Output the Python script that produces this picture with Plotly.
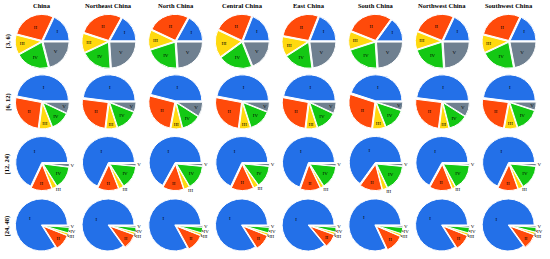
import plotly.graph_objects as go

regions = ["China", "Northeast China", "North China", "Central China",
           "East China", "South China", "Northwest China", "Southwest China"]
periods = ["[3, 6)", "[6, 12)", "[12, 24)", "[24, 48)"]
classes = ["I", "II", "III", "IV", "V"]

# shares (%) of classes I..V per region, one list per period
share_3_6 = [
    [18, 28, 12, 21, 21],
    [17, 28, 12, 19, 24],
    [17, 26, 12, 21, 24],
    [19, 24, 17, 21, 19],
    [19, 28, 12, 18, 23],
    [15, 29, 11, 21, 24],
    [18, 26, 11, 21, 24],
    [18, 28, 11, 21, 22],
]
share_6_12 = [
    [47, 26, 8, 12, 7],
    [48, 25, 7, 14, 6],
    [46, 26, 7, 12, 9],
    [47, 26, 7, 14, 6],
    [47, 26, 7, 13, 7],
    [45, 28, 8, 14, 5],
    [48, 25, 6, 12, 9],
    [48, 24, 8, 15, 5],
]
share_12_24 = [
    [68, 13, 3, 14, 2],
    [68, 13, 3, 14.5, 1.5],
    [67, 13, 3.5, 15, 1.5],
    [68, 14, 3, 13.5, 1.5],
    [69.5, 12.5, 2, 14.5, 1.5],
    [65, 14, 3, 16.5, 1.5],
    [67, 14, 2, 16, 1],
    [68, 12.5, 3, 15, 1.5],
]
share_24_48 = [
    [84, 10, 1.5, 3.5, 1],
    [85, 9.5, 1.5, 3, 1],
    [83, 11, 1.5, 3.5, 1],
    [84, 10, 1.5, 3.5, 1],
    [86, 8.5, 1.5, 3, 1],
    [82, 11.5, 1.5, 4, 1],
    [84, 10, 1.5, 3.5, 1],
    [85, 9.5, 1.5, 3, 1],
]
all_shares = [share_3_6, share_6_12, share_12_24, share_24_48]

colors = ["#2370E8", "#FF4A0A", "#FFD90F", "#14C814", "#6F8090"]

W, H = 550, 259
col_x0, col_dx = 43, 67.8
row_y = [42, 103.5, 166, 229]
half = 27.5

fig = go.Figure()
for r, shares in enumerate(all_shares):
    cy = row_y[r]
    for c, vals in enumerate(shares):
        cx = col_x0 + col_dx * c
        # plotly (ccw): first slice occupies [rotation, rotation+v1] clockwise from 12 o'clock;
        # make slice I start at 3 o'clock and run counterclockwise (matplotlib style)
        rot = 90 - 360.0 * vals[0] / sum(vals)
        fig.add_trace(go.Pie(
            labels=classes, values=vals, sort=False,
            direction="counterclockwise", rotation=rot,
            marker=dict(colors=colors, line=dict(color="white", width=1)),
            pull=[0.04] * 5,
            textinfo="label", textposition="auto",
            insidetextorientation="horizontal",
            textfont=dict(family="Liberation Serif", size=5, color="black"),
            showlegend=False, hoverinfo="label+percent",
            domain=dict(x=[(cx - half) / W, (cx + half) / W],
                        y=[1 - (cy + half) / H, 1 - (cy - half) / H]),
        ))

annotations = []
for c, name in enumerate(regions):
    annotations.append(dict(
        text="<b>%s</b>" % name, x=(col_x0 + col_dx * c) / W, y=1 - 6 / H,
        xref="paper", yref="paper", showarrow=False,
        font=dict(family="Liberation Serif", size=6.5, color="black"),
        xanchor="center", yanchor="middle"))
for r, p in enumerate(periods):
    annotations.append(dict(
        text="<b>%s</b>" % p, x=8 / W, y=1 - row_y[r] / H,
        xref="paper", yref="paper", showarrow=False, textangle=-90,
        font=dict(family="Liberation Serif", size=6.5, color="black"),
        xanchor="center", yanchor="middle"))

fig.update_layout(
    width=W, height=H, margin=dict(l=0, r=0, t=0, b=0),
    paper_bgcolor="white", plot_bgcolor="white",
    annotations=annotations,
)
fig.write_html("out.html")
